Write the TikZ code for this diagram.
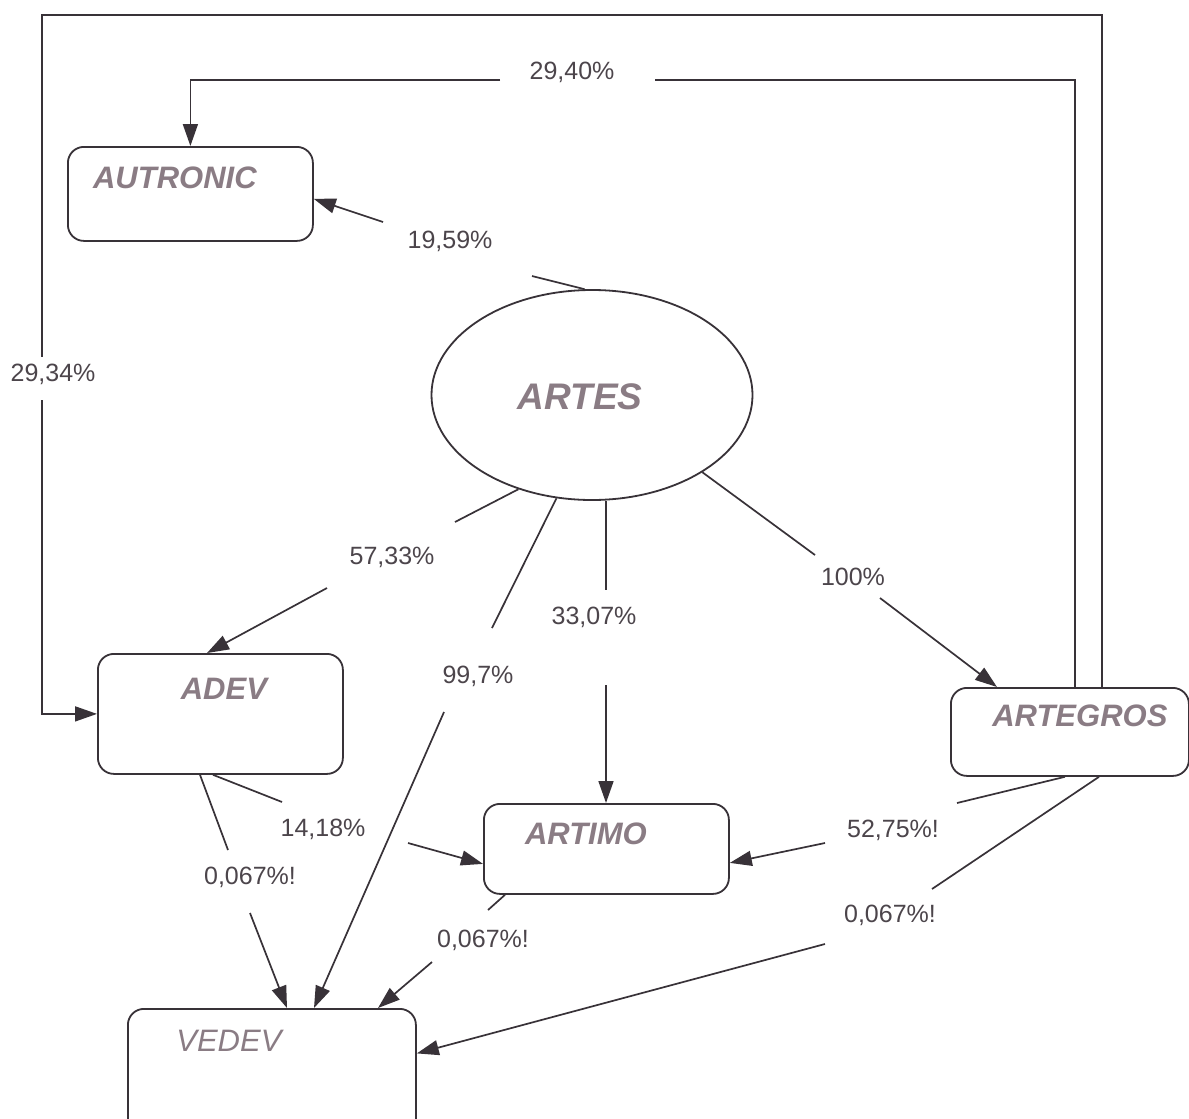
\documentclass[tikz,border=0pt]{standalone}
\usepackage{fontspec}
\setmainfont{Liberation Sans}
\usetikzlibrary{shapes.geometric,arrows.meta,calc}
\definecolor{ink}{HTML}{383238}
\definecolor{nametxt}{HTML}{8A7C84}
\definecolor{pcttxt}{HTML}{4C454B}
\tikzset{
  box/.style={draw=ink, line width=1.8pt, rounded corners=16pt, fill=white, inner sep=0pt, anchor=north west},
  nm/.style={text=nametxt, font=\fontsize{31}{36}\selectfont\bfseries\itshape, inner sep=0pt},
  pct/.style={text=pcttxt, font=\fontsize{25}{30}\selectfont, inner sep=0pt},
  conn/.style={draw=ink, line width=1.7pt},
  arr/.style={conn, -{Triangle[length=22pt,width=15pt]}},
}
\begin{document}
\begin{tikzpicture}[x=1pt,y=-1pt]
\useasboundingbox[fill=white] (0,0) rectangle (1189,1119);
% nodes
\node[box, minimum width=245pt, minimum height=94pt,
  label={[nm,xshift=-15.5pt,yshift=16pt]center:AUTRONIC}] (autronic) at (67,146) {};
\node[ellipse, draw=ink, line width=1.8pt, minimum width=321pt, minimum height=210pt, inner sep=0pt,
  label={[nm,font=\fontsize{37}{42}\selectfont\bfseries\itshape,xshift=-12pt,yshift=-2pt]center:ARTES}] (artes) at (592,395) {};
\node[box, minimum width=245pt, minimum height=120pt,
  label={[nm,xshift=3.5pt,yshift=25pt]center:ADEV}] (adev) at (97,653) {};
\node[box, minimum width=238pt, minimum height=88pt,
  label={[nm,xshift=10pt,yshift=16pt]center:ARTEGROS}] (artegros) at (950,687) {};
\node[box, minimum width=245pt, minimum height=90pt,
  label={[nm,xshift=-20.5pt,yshift=15pt]center:ARTIMO}] (artimo) at (483,803) {};
\node[box, minimum width=288pt, minimum height=135pt,
  label={[nm,font=\fontsize{31}{36}\selectfont\itshape,xshift=-43pt,yshift=36pt]center:VEDEV}] (vedev) at (127,1008) {};

% percentage labels
\node[pct] (l2940) at (572,72) {29,40\%};
\node[pct] (l2934) at (53,374) {29,34\%};
\node[pct] (l1959) at (450,241) {19,59\%};
\node[pct] (l5733) at (392,557) {57,33\%};
\node[pct] (l100) at (853,577) {100\%};
\node[pct] (l3307) at (594,617) {33,07\%};
\node[pct] (l997) at (478,676) {99,7\%};
\node[pct] (l1418) at (323,829) {14,18\%};
\node[pct] (l067a) at (250,877) {0,067\%!};
\node[pct] (l5275) at (893,830) {52,75\%!};
\node[pct] (l067b) at (483,940) {0,067\%!};
\node[pct] (l067c) at (890,915) {0,067\%!};

% helper coordinates (gap ends of the connectors)
\coordinate (otl) at (42,15);
\coordinate (o1) at (42,357);
\coordinate (o2) at (42,400);
\coordinate (i1) at (655,80);
\coordinate (i2) at (500,80);
\coordinate (a1) at (532,276);
\coordinate (a2) at (383,222);
\coordinate (b1) at (455,522);
\coordinate (b2) at (327,588);
\coordinate (v1) at (492,628);
\coordinate (v2) at (444,712);
\coordinate (m1) at (606,590);
\coordinate (m2) at (606,685);
\coordinate (g1) at (815,555);
\coordinate (g2) at (880,598);
\coordinate (d1) at (282,802);
\coordinate (d2) at (408,843);
\coordinate (e1) at (228,850);
\coordinate (e2) at (250,913);
\coordinate (f1) at (488,910);
\coordinate (f2) at (432,962);
\coordinate (h1) at (957,803);
\coordinate (h2) at (825,843);
\coordinate (k1) at (932,889);
\coordinate (k2) at (825,944);

% outer loop ARTEGROS -> ADEV
\draw[conn] ([xshift=152pt]artegros.north west) |- (otl) -- (o1);
\draw[arr] (o2) |- (adev.west);
% inner loop ARTEGROS -> AUTRONIC
\draw[conn] ([xshift=125pt]artegros.north west) |- (i1);
\draw[arr] (i2) -| (autronic.north);
% ARTES -> AUTRONIC
\draw[conn] (artes.94) -- (a1);
\draw[arr] (a2) -- ([yshift=-5pt]autronic.east);
% ARTES -> ADEV
\draw[conn] (artes.232) -- (b1);
\draw[arr] (b2) -- ([xshift=110pt]adev.north west);
% ARTES -> VEDEV
\draw[conn] (artes.251) -- (v1);
\draw[arr] (v2) -- ([xshift=187pt]vedev.north west);
% ARTES -> ARTIMO
\draw[conn] (m1 |- artes.south) -- (m1);
\draw[arr] (m2) -- (m2 |- artimo.north);
% ARTES -> ARTEGROS
\draw[conn] (artes.-35.5) -- (g1);
\draw[arr] (g2) -- ([xshift=47pt]artegros.north west);
% ADEV -> ARTIMO
\draw[conn] ([xshift=116pt]adev.south west) -- (d1);
\draw[arr] (d2) -- ([yshift=-15pt]artimo.west);
% ADEV -> VEDEV
\draw[conn] ([xshift=103pt]adev.south west) -- (e1);
\draw[arr] (e2) -- ([xshift=160pt]vedev.north west);
% ARTIMO -> VEDEV
\draw[conn] ([xshift=22pt]artimo.south west) -- (f1);
\draw[arr] (f2) -- ([xshift=251pt]vedev.north west);
% ARTEGROS -> ARTIMO
\draw[conn] ([xshift=115pt]artegros.south west) -- (h1);
\draw[arr] (h2) -- ([yshift=-14pt]artimo.east);
% ARTEGROS -> VEDEV
\draw[conn] ([xshift=149pt]artegros.south west) -- (k1);
\draw[arr] (k2) -- ([yshift=23pt]vedev.east);
\end{tikzpicture}
\end{document}
